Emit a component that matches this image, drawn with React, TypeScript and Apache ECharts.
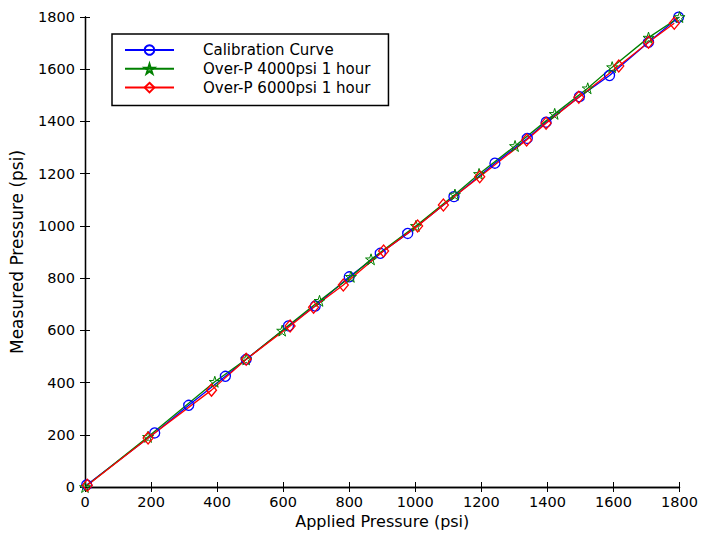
import React, { useEffect, useRef } from "react";
import * as echarts from "echarts";

const xTicks = [0, 200, 400, 600, 800, 1000, 1200, 1400, 1600, 1800];
const seriesNames = ["Calibration Curve", "Over-P 4000psi 1 hour", "Over-P 6000psi 1 hour"];

const calX = [5, 211, 314, 425, 488, 616, 697, 800, 894, 977, 1117, 1241, 1339, 1396, 1497, 1588, 1706, 1797];
const calY = [8, 207, 313, 424, 489, 617, 693, 805, 895, 971, 1112, 1240, 1335, 1397, 1495, 1576, 1703, 1799];

const p4X = [0, 191, 393, 488, 597, 710, 805, 866, 1002, 1120, 1193, 1302, 1422, 1522, 1596, 1706, 1800];
const p4Y = [0, 192, 403, 489, 599, 713, 805, 872, 1000, 1120, 1199, 1306, 1429, 1527, 1608, 1721, 1800];

const p6X = [7, 191, 383, 488, 621, 692, 782, 904, 1007, 1085, 1195, 1337, 1396, 1495, 1616, 1706, 1784];
const p6Y = [7, 188, 371, 489, 617, 688, 774, 904, 1000, 1080, 1188, 1329, 1393, 1493, 1612, 1703, 1776];

const STAR =
  "path://M5 0 L6.123 3.455 L9.755 3.455 L6.816 5.59 L7.939 9.045 L5 6.91 L2.061 9.045 L3.184 5.59 L0.245 3.455 L3.877 3.455 Z";

const FONT = "DejaVu Sans";

function pairs(xs: number[], ys: number[]) {
  return xs.map((x, i) => [x, ys[i]]);
}

export default function App() {
  const ref = useRef<HTMLDivElement>(null);
  useEffect(() => {
    if (!ref.current) return;
    const chart = echarts.init(ref.current, null, { renderer: "svg" });
    const axisLine = { show: true, lineStyle: { color: "#000", width: 1.3 } };
    const tick = { show: true, inside: true, length: 5, lineStyle: { color: "#000", width: 1 } };
    const lbl = { color: "#000", fontFamily: FONT, fontSize: 14.5, formatter: (v: number) => String(v) };
    const mk = (
      name: string,
      data: number[][],
      color: string,
      symbol: string,
      symbolSize: number | number[],
      bw: number
    ) => ({
      name,
      type: "line",
      data,
      symbol,
      symbolSize,
      showAllSymbol: true,
      lineStyle: { color, width: 1.3 },
      itemStyle: { color: "rgba(255,255,255,0)", borderColor: color, borderWidth: bw },
      emphasis: { disabled: true },
      z: 2,
    });
    chart.setOption({
      animation: false,
      backgroundColor: "#fff",
      grid: { left: 85, right: 20, top: 17, bottom: 48, containLabel: false },
      legend: {
        orient: "vertical",
        left: 112,
        top: 34,
        data: seriesNames,
        itemWidth: 49,
        itemHeight: 12,
        itemGap: 0.8,
        padding: [7, 18, 9, 12],
        borderColor: "#000",
        borderWidth: 1.5,
        backgroundColor: "#fff",
        selectedMode: false,
        textStyle: {
          color: "#000",
          fontFamily: FONT,
          fontSize: 15,
          lineHeight: 18,
          padding: [0, 0, 0, 24],
        },
      },
      xAxis: [
        {
          type: "value",
          min: 0,
          max: 1800,
          interval: 200,
          position: "bottom",
          name: "Applied Pressure (psi)",
          nameLocation: "middle",
          nameGap: 26,
          nameTextStyle: { color: "#000", fontFamily: FONT, fontSize: 16 },
          axisLine,
          axisTick: tick,
          axisLabel: { ...lbl, margin: 7, formatter: (v: number) => (xTicks.includes(v) ? String(v) : "") },
          splitLine: { show: false },
        },
        {
          type: "value",
          min: 0,
          max: 1800,
          interval: 200,
          position: "top",
          axisLine,
          axisTick: tick,
          axisLabel: { show: false },
          splitLine: { show: false },
        },
      ],
      yAxis: [
        {
          type: "value",
          min: 0,
          max: 1800,
          interval: 200,
          position: "left",
          name: "Measured Pressure (psi)",
          nameLocation: "middle",
          nameGap: 60,
          nameTextStyle: { color: "#000", fontFamily: FONT, fontSize: 17 },
          axisLine,
          axisTick: tick,
          axisLabel: { ...lbl, margin: 10 },
          splitLine: { show: false },
        },
        {
          type: "value",
          min: 0,
          max: 1800,
          interval: 200,
          position: "right",
          axisLine,
          axisTick: tick,
          axisLabel: { show: false },
          splitLine: { show: false },
        },
      ],
      series: [
        mk(seriesNames[0], pairs(calX, calY), "#0000ff", "circle", 10, 1.3),
        mk(seriesNames[1], pairs(p4X, p4Y), "#008000", STAR, 11, 1),
        mk(seriesNames[2], pairs(p6X, p6Y), "#ff0000", "diamond", [10, 12], 1.3),
      ],
    });
    return () => chart.dispose();
  }, []);
  return (
    <div
      ref={ref}
      style={{ position: "fixed", left: 0, top: 0, width: 701, height: 535, background: "#fff" }}
    />
  );
}
